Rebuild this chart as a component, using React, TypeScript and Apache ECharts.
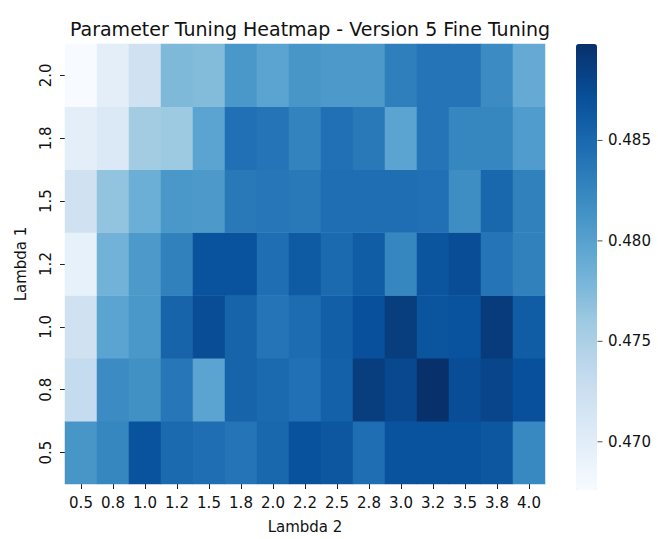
import React, { useEffect, useRef } from "react";
import * as echarts from "echarts";

// Lambda 2 (x axis) and Lambda 1 (y axis, bottom to top) tick labels
const lambda2 = ["0.5", "0.8", "1.0", "1.2", "1.5", "1.8", "2.0", "2.2", "2.5", "2.8", "3.0", "3.2", "3.5", "3.8", "4.0"];
const lambda1 = ["0.5", "0.8", "1.0", "1.2", "1.5", "1.8", "2.0"];

// Scores per Lambda 1 row, across Lambda 2 columns
const row_0_5 = [0.4811, 0.4825, 0.4869, 0.4849, 0.4845, 0.4840, 0.4851, 0.4870, 0.4865, 0.4845, 0.4869, 0.4869, 0.4869, 0.4865, 0.4823];
const row_0_8 = [0.4732, 0.4820, 0.4816, 0.4838, 0.4798, 0.4854, 0.4849, 0.4843, 0.4856, 0.4887, 0.4878, 0.4898, 0.4874, 0.4880, 0.4871];
const row_1_0 = [0.4720, 0.4798, 0.4809, 0.4854, 0.4874, 0.4854, 0.4840, 0.4847, 0.4858, 0.4871, 0.4887, 0.4867, 0.4869, 0.4889, 0.4860];
const row_1_2 = [0.4694, 0.4783, 0.4807, 0.4829, 0.4869, 0.4869, 0.4845, 0.4862, 0.4849, 0.4860, 0.4825, 0.4867, 0.4874, 0.4840, 0.4829];
const row_1_5 = [0.4720, 0.4765, 0.4787, 0.4809, 0.4807, 0.4836, 0.4838, 0.4836, 0.4845, 0.4845, 0.4845, 0.4843, 0.4818, 0.4851, 0.4829];
const row_1_8 = [0.4698, 0.4707, 0.4756, 0.4760, 0.4798, 0.4843, 0.4840, 0.4827, 0.4843, 0.4836, 0.4798, 0.4840, 0.4825, 0.4825, 0.4805];
const row_2_0 = [0.4676, 0.4698, 0.4720, 0.4776, 0.4774, 0.4809, 0.4798, 0.4811, 0.4807, 0.4807, 0.4831, 0.4840, 0.4840, 0.4820, 0.4791];

const rows = [row_0_5, row_0_8, row_1_0, row_1_2, row_1_5, row_1_8, row_2_0];

const colorbarTicks = [0.47, 0.475, 0.48, 0.485];

const BLUES = ["#f7fbff", "#deebf7", "#c6dbef", "#9ecae1", "#6baed6", "#4292c6", "#2171b5", "#08519c", "#08306b"];
const FONT = "DejaVu Sans";

export default function App() {
  const ref = useRef<HTMLDivElement>(null);
  useEffect(() => {
    if (!ref.current) return;
    const chart = echarts.init(ref.current, null, { renderer: "svg" });
    const data: [number, number, number][] = [];
    rows.forEach((r, yi) => r.forEach((v, xi) => data.push([xi, yi, v])));
    const all = rows.flat();
    const vmin = Math.min(...all);
    const vmax = Math.max(...all);

    chart.setOption({
      animation: false,
      backgroundColor: "#ffffff",
      title: {
        text: "Parameter Tuning Heatmap - Version 5 Fine Tuning",
        left: 305,
        textAlign: "center",
        top: 14,
        textStyle: { fontFamily: FONT, fontSize: 19, fontWeight: "normal", color: "#111" },
      },
      grid: [
        { left: 65, top: 44, width: 480, height: 446 },
        { left: 576, top: 44, width: 21, height: 446 },
      ],
      xAxis: [
        {
          type: "category",
          gridIndex: 0,
          data: lambda2,
          name: "Lambda 2",
          nameLocation: "middle",
          nameGap: 35,
          nameTextStyle: { fontFamily: FONT, fontSize: 15, color: "#111" },
          axisLine: { show: false },
          axisTick: { show: true, alignWithLabel: true, length: 5, lineStyle: { color: "#222" } },
          axisLabel: { fontFamily: FONT, fontSize: 15, color: "#111", margin: 11, interval: 0 },
          splitLine: { show: false },
        },
        { type: "value", gridIndex: 1, show: false, min: 0, max: 1 },
      ],
      yAxis: [
        {
          type: "category",
          gridIndex: 0,
          data: lambda1,
          name: "Lambda 1",
          nameLocation: "middle",
          nameGap: 37,
          nameRotate: 90,
          nameTextStyle: { fontFamily: FONT, fontSize: 15, color: "#111" },
          axisLine: { show: false },
          axisTick: { show: true, alignWithLabel: true, length: 5, lineStyle: { color: "#222" } },
          axisLabel: { fontFamily: FONT, fontSize: 15, color: "#111", margin: 12, rotate: 90, interval: 0 },
          splitLine: { show: false },
        },
        {
          type: "value",
          gridIndex: 1,
          position: "right",
          min: vmin,
          max: vmax,
          axisLine: { show: false },
          splitLine: { show: false },
          axisTick: { show: false },
          axisLabel: {
            customValues: colorbarTicks,
            fontFamily: FONT,
            fontSize: 15,
            color: "#111",
            margin: 11,
            formatter: (v: number) => v.toFixed(3),
          },
        },
      ],
      visualMap: {
        type: "continuous",
        seriesIndex: 0,
        min: vmin,
        max: vmax,
        calculable: false,
        left: 576,
        top: 44,
        itemWidth: 21,
        itemHeight: 446,
        padding: 0,
        text: null,
        inRange: { color: BLUES },
        hoverLink: false,
      },
      series: [
        {
          type: "heatmap",
          xAxisIndex: 0,
          yAxisIndex: 0,
          data,
          itemStyle: { borderWidth: 0 },
          emphasis: { disabled: true },
        },
        {
          type: "scatter",
          xAxisIndex: 1,
          yAxisIndex: 1,
          data: colorbarTicks.map((t) => [1, t]),
          symbol: "rect",
          symbolSize: [5, 1],
          symbolOffset: [3, 0],
          itemStyle: { color: "#222" },
          clip: false,
          silent: true,
          z: 5,
        },
      ],
    });
    return () => chart.dispose();
  }, []);
  return <div ref={ref} style={{ position: "fixed", left: 0, top: 0, width: 658, height: 539, background: "#fff" }} />;
}
